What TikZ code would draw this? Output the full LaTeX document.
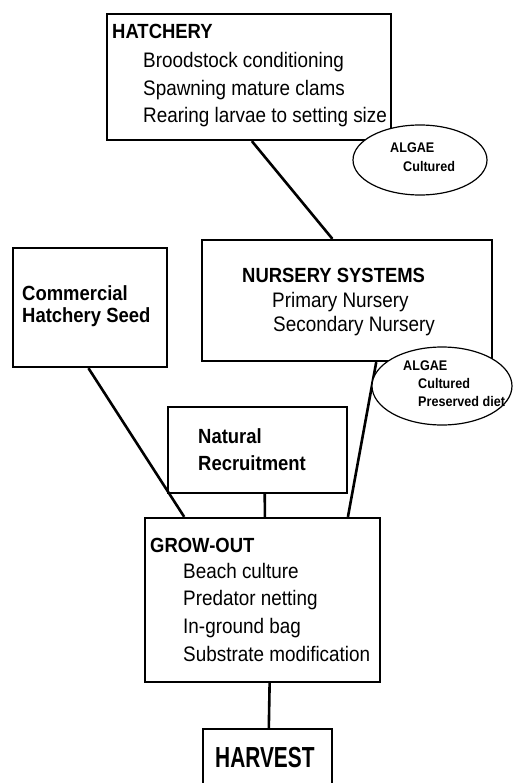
\documentclass[tikz,border=0pt]{standalone}
\usepackage{fontspec}
\setmainfont{Liberation Sans}[FakeStretch=0.9]
\newfontfamily\harvfont{Liberation Sans}[FakeStretch=0.72]
\usetikzlibrary{calc,shapes.geometric}
\begin{document}
\begin{tikzpicture}[x=1pt,y=-1pt,
  box/.style={draw, line width=2.3pt, rectangle, inner sep=0pt, fill=white},
  conn/.style={line width=2.6pt},
  oval/.style={draw, ellipse, line width=1.2pt, inner sep=0pt, fill=white},
  txt/.style={anchor=base west, inner sep=0pt, font=\fontsize{21}{25}\selectfont},
  hd/.style={anchor=base west, inner sep=0pt, font=\fontsize{20.5}{25}\selectfont\bfseries},
  sm/.style={anchor=base west, inner sep=0pt, font=\fontsize{14}{16}\selectfont\bfseries}]
\useasboundingbox (0,0) rectangle (513,783);

% boxes
\node[box, minimum width=284pt, minimum height=126pt] (hatch) at (249,77) {};
\node[box, minimum width=154pt, minimum height=119pt] (comm) at (90,307.5) {};
\node[box, minimum width=290pt, minimum height=121pt] (nurs) at (347,300.5) {};
\node[box, minimum width=179pt, minimum height=86pt] (nat) at (257.5,450) {};
\node[box, minimum width=235pt, minimum height=164pt] (grow) at (262.5,600) {};
\node[box, minimum width=129pt, minimum height=61pt] (harv) at (267.5,759.5) {};

% connectors
\draw[conn] ($(hatch.south west)!0.51!(hatch.south east)$) -- ($(nurs.north west)!0.45!(nurs.north east)$);
\draw[conn] ($(comm.south west)!0.49!(comm.south east)$) -- ($(grow.north west)!0.17!(grow.north east)$);
\draw[conn] ($(nurs.south west)!0.60!(nurs.south east)$) -- ($(grow.north west)!0.86!(grow.north east)$);
\draw[conn] ($(nat.south west)!0.54!(nat.south east)$) -- ($(grow.north west)!0.51!(grow.north east)$);
\draw[conn] ($(grow.south west)!0.53!(grow.south east)$) -- ($(harv.north west)!0.51!(harv.north east)$);

% algae ellipses
\node[oval, minimum width=134pt, minimum height=70pt] (alg1) at (420,160) {};
\node[oval, minimum width=140pt, minimum height=78pt] (alg2) at (442,386) {};

% texts
\node[hd] (t1) at (112,39) {HATCHERY};
\node[txt] (t2) at (143,68) {Broodstock conditioning};
\node[txt] (t3) at (143,96) {Spawning mature clams};
\node[txt] (t4) at (143,123) {Rearing larvae to setting size};

\node[sm] (a1) at (390,153) {ALGAE};
\node[sm] (a2) at (403,172) {Cultured};

\node[hd] (c1) at (22,300) {Commercial};
\node[hd] (c2) at (22,322) {Hatchery Seed};

\node[hd] (n1) at (242,282) {NURSERY SYSTEMS};
\node[txt] (n2) at (272,307) {Primary Nursery};
\node[txt] (n3) at (273,331) {Secondary Nursery};

\node[sm] (b1) at (403,370) {ALGAE};
\node[sm] (b2) at (418,388) {Cultured};
\node[sm] (b3) at (418,406) {Preserved diet};

\node[hd] (r1) at (198,443) {Natural};
\node[hd] (r2) at (198,470) {Recruitment};

\node[hd] (g0) at (150,552) {GROW-OUT};
\node[txt] (g1) at (183,578) {Beach culture};
\node[txt] (g2) at (183,605) {Predator netting};
\node[txt] (g3) at (183,633) {In-ground bag};
\node[txt] (g4) at (183,661) {Substrate modification};

\node[anchor=base west, inner sep=0pt, font=\harvfont\fontsize{29}{32}\selectfont\bfseries] (h1) at (215,767) {HARVEST};
\end{tikzpicture}
\end{document}
